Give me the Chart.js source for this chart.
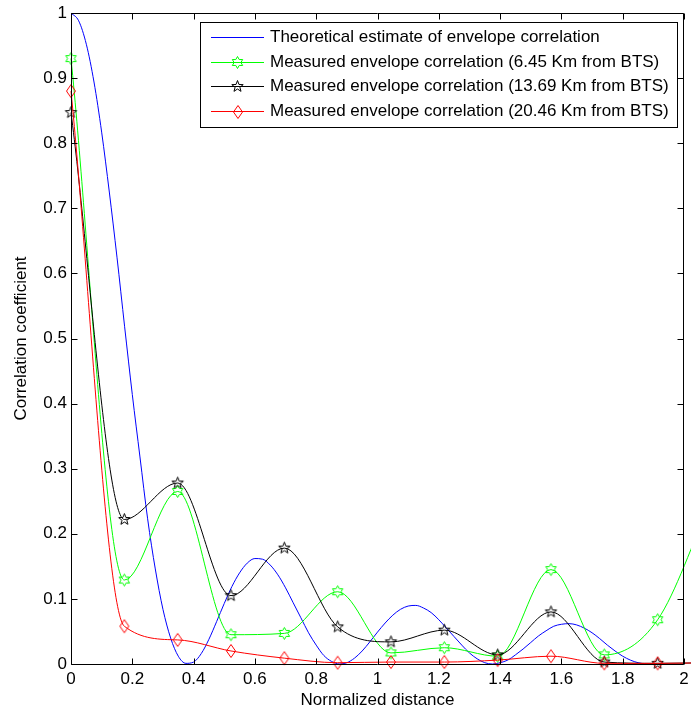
<!DOCTYPE html>
<html>
<head>
<meta charset="utf-8">
<script src="https://cdn.jsdelivr.net/npm/chart.js@4.4.1/dist/chart.umd.min.js"></script>
<style>
    html, body { margin: 0; padding: 0; background: #fff; }
    #wrap { width: 691px; height: 711px; }
</style>
</head>
<body>
<div id="wrap"><canvas id="chartCorrelation" width="691" height="711"></canvas></div>
<script>
// --- 1. DATA ---
const xTicks = [0, 0.2, 0.4, 0.6, 0.8, 1, 1.2, 1.4, 1.6, 1.8, 2];
const yTicks = [0, 0.1, 0.2, 0.3, 0.4, 0.5, 0.6, 0.7, 0.8, 0.9, 1];

// theoretical curve, sampled every 0.025
const theoryDist = [0, 0.025, 0.05, 0.075, 0.1, 0.125, 0.15, 0.175, 0.2, 0.225, 0.25, 0.275, 0.3, 0.325, 0.35, 0.375,
    0.4, 0.425, 0.45, 0.475, 0.5, 0.525, 0.55, 0.575, 0.6, 0.625, 0.65, 0.675, 0.7, 0.725, 0.75, 0.775,
    0.8, 0.825, 0.85, 0.875, 0.9, 0.925, 0.95, 0.975, 1, 1.025, 1.05, 1.075, 1.1, 1.125, 1.15, 1.175,
    1.2, 1.225, 1.25, 1.275, 1.3, 1.325, 1.35, 1.375, 1.4, 1.425, 1.45, 1.475, 1.5, 1.525, 1.55, 1.575,
    1.6, 1.625, 1.65, 1.675, 1.7, 1.725, 1.75, 1.775, 1.8, 1.825, 1.85, 1.875];
const theoryCorr = [1, 0.988, 0.952, 0.894, 0.817, 0.725, 0.625, 0.518, 0.414, 0.318, 0.223, 0.146, 0.084, 0.040, 0.012, 0.001,
    0.003, 0.016, 0.038, 0.065, 0.093, 0.119, 0.140, 0.155, 0.162, 0.161, 0.152, 0.137, 0.117, 0.094, 0.071, 0.048,
    0.029, 0.013, 0.004, 0.000, 0.002, 0.009, 0.020, 0.034, 0.049, 0.063, 0.075, 0.084, 0.089, 0.090, 0.086, 0.079,
    0.068, 0.055, 0.042, 0.029, 0.017, 0.008, 0.002, 0.000, 0.002, 0.006, 0.014, 0.023, 0.033, 0.043, 0.051, 0.058,
    0.061, 0.062, 0.060, 0.055, 0.048, 0.039, 0.029, 0.020, 0.012, 0.006, 0.002, 0.000];

// measured points
const measuredDist = [0, 0.174, 0.348, 0.522, 0.696, 0.870, 1.044, 1.218, 1.392, 1.566, 1.740, 1.914, 2.088];
const corr645 = [0.930, 0.129, 0.265, 0.045, 0.047, 0.111, 0.017, 0.025, 0.012, 0.145, 0.014, 0.068, 0.250];
const corr1369 = [0.847, 0.222, 0.278, 0.105, 0.178, 0.057, 0.034, 0.052, 0.014, 0.080, 0.003, 0.001, 0.002];
const corr2046 = [0.880, 0.058, 0.037, 0.020, 0.009, 0.002, 0.003, 0.003, 0.006, 0.012, 0.001, 0.001, 0.002];

const seriesLabels = [
    'Theoretical estimate of envelope correlation',
    'Measured envelope correlation (6.45 Km from BTS)',
    'Measured envelope correlation (13.69 Km from BTS)',
    'Measured envelope correlation (20.46 Km from BTS)'
];
const seriesColors = ['#0000ff', '#00ff00', '#000000', '#ff0000'];

const FONT_FAMILY = '"Liberation Sans", Arial, Helvetica, sans-serif';
const FONT_SIZE = 17;

// --- 2. MARKER GAMBAR (MATLAB style, tanpa isi) ---
function starMarker(color, points, outer, inner) {
    const size = Math.ceil(outer * 2 + 3);
    const c = document.createElement('canvas');
    c.width = size; c.height = size;
    const g = c.getContext('2d');
    g.strokeStyle = color;
    g.lineWidth = 1;
    g.beginPath();
    for (let i = 0; i < points * 2; i++) {
        const r = i % 2 === 0 ? outer : inner;
        const a = -Math.PI / 2 + i * Math.PI / points;
        const px = size / 2 + r * Math.cos(a), py = size / 2 + r * Math.sin(a);
        i === 0 ? g.moveTo(px, py) : g.lineTo(px, py);
    }
    g.closePath();
    g.stroke();
    return c;
}

function diamondMarker(color, w, h) {
    const c = document.createElement('canvas');
    c.width = w + 3; c.height = h + 3;
    const g = c.getContext('2d');
    const cx = c.width / 2, cy = c.height / 2;
    g.strokeStyle = color;
    g.lineWidth = 1;
    g.beginPath();
    g.moveTo(cx, cy - h / 2);
    g.lineTo(cx + w / 2, cy);
    g.lineTo(cx, cy + h / 2);
    g.lineTo(cx - w / 2, cy);
    g.closePath();
    g.stroke();
    return c;
}

const hexMark = starMarker(seriesColors[1], 6, 6, 3.4);
const pentMark = starMarker(seriesColors[2], 5, 6, 2.5);
const diaMark = diamondMarker(seriesColors[3], 9, 13);

// --- 3. PLUGIN: kotak sumbu + tick ke dalam ---
const boxAxes = {
    id: 'boxAxes',
    afterDatasetsDraw(chart) {
        const { ctx, chartArea: a, scales } = chart;
        const L = Math.round(a.left) + 0.5, R = Math.round(a.right) - 0.5;
        const T = Math.round(a.top) + 0.5, B = Math.round(a.bottom) + 0.5;
        ctx.save();
        ctx.strokeStyle = '#000';
        ctx.lineWidth = 1;
        ctx.beginPath();
        ctx.rect(L, T, R - L, B - T);
        xTicks.forEach(v => {
            const px = Math.round(scales.x.getPixelForValue(v)) + 0.5;
            ctx.moveTo(px, B); ctx.lineTo(px, B - 6);
            ctx.moveTo(px, T); ctx.lineTo(px, T + 6);
        });
        yTicks.forEach(v => {
            const py = Math.round(scales.y.getPixelForValue(v)) + 0.5;
            ctx.moveTo(L, py); ctx.lineTo(L + 6, py);
            ctx.moveTo(R, py); ctx.lineTo(R - 6, py);
        });
        ctx.stroke();
        ctx.restore();
    }
};

// --- 4. PLUGIN: legenda di dalam area plot ---
const boxLegend = {
    id: 'boxLegend',
    afterDraw(chart) {
        const { ctx, chartArea: a } = chart;
        const marks = [null, hexMark, pentMark, diaMark];
        ctx.save();
        ctx.font = `${FONT_SIZE}px ${FONT_FAMILY}`;
        const textW = Math.max(...seriesLabels.map(t => ctx.measureText(t).width));
        const w = 11 + 53 + 6 + textW + 8;
        const h = 105;
        const right = Math.round(a.right) - 7;
        const left = Math.round(right - w);
        const top = Math.round(a.top) + 9;

        ctx.fillStyle = '#fff';
        ctx.fillRect(left, top, right - left, h);
        ctx.strokeStyle = '#000';
        ctx.lineWidth = 1;
        ctx.strokeRect(left + 0.5, top + 0.5, right - left, h);

        ctx.textBaseline = 'middle';
        ctx.textAlign = 'left';
        seriesLabels.forEach((label, i) => {
            const y = Math.round(top + 15 + i * 24.5) + 0.5;
            ctx.beginPath();
            ctx.strokeStyle = seriesColors[i];
            ctx.moveTo(left + 11, y);
            ctx.lineTo(left + 64, y);
            ctx.stroke();
            const m = marks[i];
            if (m) ctx.drawImage(m, Math.round(left + 37.5 - m.width / 2), Math.round(y - m.height / 2));
            ctx.fillStyle = '#000';
            ctx.fillText(label, left + 70, y);
        });
        ctx.restore();
    }
};

// --- 5. RENDER CHART ---
const toXY = (xs, ys) => xs.map((x, i) => ({ x: x, y: ys[i] }));

const lineBase = {
    borderWidth: 1,
    fill: false,
    cubicInterpolationMode: 'monotone',
    clip: false
};

const tickFont = { family: FONT_FAMILY, size: FONT_SIZE };

new Chart(document.getElementById('chartCorrelation'), {
    type: 'line',
    data: {
        datasets: [
            { ...lineBase, label: seriesLabels[0], data: toXY(theoryDist, theoryCorr), borderColor: seriesColors[0], pointRadius: 0, order: 3 },
            { ...lineBase, label: seriesLabels[1], data: toXY(measuredDist, corr645), borderColor: seriesColors[1], pointStyle: hexMark, pointRadius: 6, order: 2 },
            { ...lineBase, label: seriesLabels[2], data: toXY(measuredDist, corr1369), borderColor: seriesColors[2], pointStyle: pentMark, pointRadius: 6, order: 1 },
            { ...lineBase, label: seriesLabels[3], data: toXY(measuredDist, corr2046), borderColor: seriesColors[3], pointStyle: diaMark, pointRadius: 6, order: 0 }
        ]
    },
    options: {
        responsive: false,
        animation: false,
        events: [],
        layout: { padding: { top: 13, right: 1, left: 0, bottom: 0 } },
        plugins: { legend: { display: false }, tooltip: { enabled: false } },
        scales: {
            x: {
                type: 'linear',
                min: 0, max: 2,
                afterBuildTicks: s => { s.ticks = xTicks.map(v => ({ value: v })); },
                afterFit: s => { s.height = 47; s.paddingLeft = 0; s.paddingRight = 0; },
                grid: { display: false, drawTicks: false },
                border: { display: false },
                ticks: { padding: 5, maxRotation: 0, autoSkip: false, color: '#000', font: tickFont, callback: v => String(v) },
                title: { display: true, text: 'Normalized distance', color: '#000', padding: { top: 0, bottom: 0 }, font: tickFont }
            },
            y: {
                type: 'linear',
                min: 0, max: 1,
                afterBuildTicks: s => { s.ticks = yTicks.map(v => ({ value: v })); },
                afterFit: s => { s.width = 71; s.paddingTop = 0; s.paddingBottom = 0; },
                grid: { display: false, drawTicks: false },
                border: { display: false },
                ticks: { padding: 4, autoSkip: false, color: '#000', font: tickFont, callback: v => String(v) },
                title: { display: true, text: 'Correlation coefficient', color: '#000', padding: { top: 11, bottom: 0 }, font: tickFont }
            }
        }
    },
    plugins: [boxAxes, boxLegend]
});
</script>
</body>
</html>
